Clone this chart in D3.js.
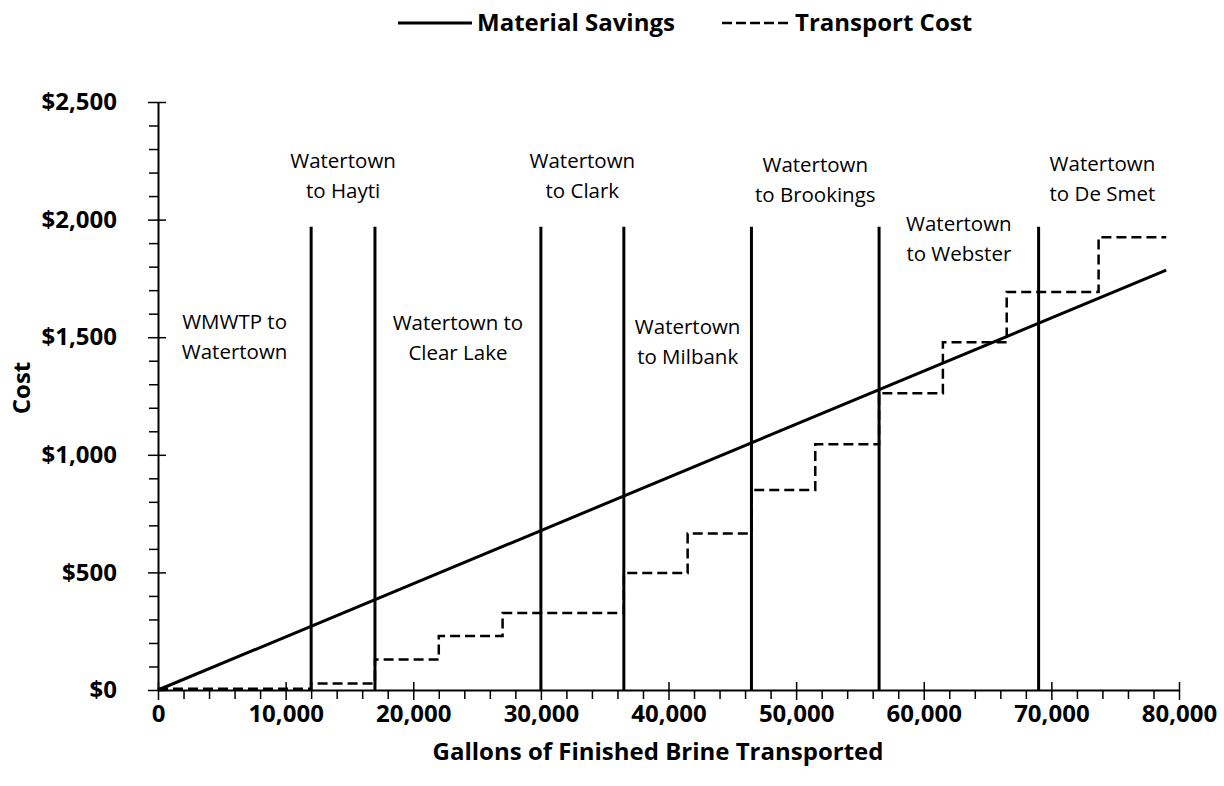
<!DOCTYPE html>
<html lang="en">
<head>
<meta charset="UTF-8">
<title>Material Savings vs Transport Cost</title>
<script src="https://cdn.jsdelivr.net/npm/d3@7"></script>
<style>
    body { margin: 0; background: #fff; }
    text { font-family: "Open Sans", sans-serif; fill: #000; }
</style>
</head>
<body>
<div id="chart"></div>
<script>
    // material savings (straight line)
    const savingsGallons = [0, 79000];
    const savingsCost = [0, 1785];

    // transport cost, step function (value holds until the next break)
    const transportGallons = [0, 12000, 17000, 22000, 27000, 36500, 41500, 46500, 51500, 56500, 61500, 66500, 73700, 79000];
    const transportCost = [5, 28, 130, 230, 327, 497, 665, 850, 1045, 1262, 1478, 1692, 1925, 1925];

    // vertical route boundaries
    const routeBreaks = [12000, 17000, 30000, 36500, 46500, 56500, 69000];
    const routeTop = 1970;

    // route labels
    const routeNames = [
        ["WMWTP to", "Watertown"],
        ["Watertown", "to Hayti"],
        ["Watertown to", "Clear Lake"],
        ["Watertown", "to Clark"],
        ["Watertown", "to Milbank"],
        ["Watertown", "to Brookings"],
        ["Watertown", "to Webster"],
        ["Watertown", "to De Smet"]
    ];
    const routeLabelX = [6000, 14500, 23500, 33250, 41500, 51500, 62750, 74000];
    const routeLabelY = [1565, 2249, 1560, 2249, 1543, 2232, 1981, 2237];

    const xTicks = [0, 10000, 20000, 30000, 40000, 50000, 60000, 70000, 80000];
    const yTicks = [0, 500, 1000, 1500, 2000, 2500];

    const W = 1224, H = 786;
    const margin = { top: 102, right: 45, bottom: 96, left: 158 };
    const width = W - margin.left - margin.right;
    const height = H - margin.top - margin.bottom;

    const svg = d3.select("#chart").append("svg")
        .attr("width", W)
        .attr("height", H);

    const g = svg.append("g")
        .attr("transform", `translate(${margin.left},${margin.top})`);

    const x = d3.scaleLinear().domain([0, 80000]).range([0, width]);
    const y = d3.scaleLinear().domain([0, 2500]).range([height, 0]);

    // minor ticks
    const xMinor = d3.range(0, 80001, 2000).filter(v => v % 10000 !== 0);
    const yMinor = d3.range(0, 2501, 100).filter(v => v % 500 !== 0);

    g.append("g")
        .attr("transform", `translate(0,${height})`)
        .call(d3.axisBottom(x).tickValues(xMinor).tickSize(9).tickFormat(""))
        .call(a => a.select(".domain").remove());
    g.append("g")
        .call(d3.axisLeft(y).tickValues(yMinor).tickSize(9).tickFormat(""))
        .call(a => a.select(".domain").remove());

    // major axes
    const xAxis = g.append("g")
        .attr("transform", `translate(0,${height})`)
        .call(d3.axisBottom(x).tickValues(xTicks).tickSize(10).tickSizeOuter(0)
            .tickPadding(5).tickFormat(d3.format(",")));
    xAxis.selectAll(".tick line").attr("y1", -8);

    const yAxis = g.append("g")
        .call(d3.axisLeft(y).tickValues(yTicks).tickSize(10).tickSizeOuter(0)
            .tickPadding(31).tickFormat(d => "$" + d3.format(",")(d)));
    yAxis.selectAll(".tick line").attr("x1", 8);

    g.selectAll(".tick line").attr("stroke", "#000").attr("stroke-width", 1.5);
    g.selectAll(".domain").attr("stroke", "#000").attr("stroke-width", 2);
    g.selectAll(".tick text")
        .style("font-size", "24px")
        .style("font-weight", "bold")
        .style("font-family", "'Open Sans', sans-serif");

    // route boundaries
    g.selectAll(".route")
        .data(routeBreaks)
        .enter().append("line")
        .attr("class", "route")
        .attr("x1", d => x(d))
        .attr("x2", d => x(d))
        .attr("y1", y(0))
        .attr("y2", y(routeTop))
        .attr("stroke", "#000")
        .attr("stroke-width", 3);

    // transport cost
    const stepData = transportGallons.map((v, i) => [v, transportCost[i]]);
    g.append("path")
        .datum(stepData)
        .attr("fill", "none")
        .attr("stroke", "#000")
        .attr("stroke-width", 2.5)
        .attr("stroke-dasharray", "10,5")
        .attr("d", d3.line().x(d => x(d[0])).y(d => y(d[1])).curve(d3.curveStepAfter));

    // material savings
    const lineData = savingsGallons.map((v, i) => [v, savingsCost[i]]);
    g.append("path")
        .datum(lineData)
        .attr("fill", "none")
        .attr("stroke", "#000")
        .attr("stroke-width", 3)
        .attr("d", d3.line().x(d => x(d[0])).y(d => y(d[1])));

    // route labels
    const labels = g.selectAll(".route-label")
        .data(routeNames)
        .enter().append("text")
        .attr("class", "route-label")
        .attr("text-anchor", "middle")
        .style("font-size", "20.5px");
    labels.selectAll("tspan")
        .data((d, i) => d.map((t, j) => ({ t, j, i })))
        .enter().append("tspan")
        .attr("x", d => x(routeLabelX[d.i]))
        .attr("y", d => y(routeLabelY[d.i]) + d.j * 30)
        .attr("dy", "0.35em")
        .text(d => d.t);

    // axis titles
    svg.append("text")
        .attr("x", 658)
        .attr("y", 752)
        .attr("dy", "0.35em")
        .attr("text-anchor", "middle")
        .style("font-size", "24px")
        .style("font-weight", "bold")
        .text("Gallons of Finished Brine Transported");

    svg.append("text")
        .attr("transform", `translate(22,${margin.top + height / 2 - 8}) rotate(-90)`)
        .attr("dy", "0.35em")
        .attr("text-anchor", "middle")
        .style("font-size", "24px")
        .style("font-weight", "bold")
        .text("Cost");

    // legend
    const legend = svg.append("g").attr("transform", "translate(0,23)");
    legend.append("line")
        .attr("x1", 398).attr("x2", 472).attr("y1", 0).attr("y2", 0)
        .attr("stroke", "#000").attr("stroke-width", 3);
    legend.append("text")
        .attr("x", 477).attr("dy", "0.35em")
        .style("font-size", "24px").style("font-weight", "bold")
        .text("Material Savings");
    legend.append("line")
        .attr("x1", 722).attr("x2", 792).attr("y1", 0).attr("y2", 0)
        .attr("stroke", "#000").attr("stroke-width", 2.5)
        .attr("stroke-dasharray", "10,4");
    legend.append("text")
        .attr("x", 795).attr("dy", "0.35em")
        .style("font-size", "24px").style("font-weight", "bold")
        .text("Transport Cost");
</script>
</body>
</html>
